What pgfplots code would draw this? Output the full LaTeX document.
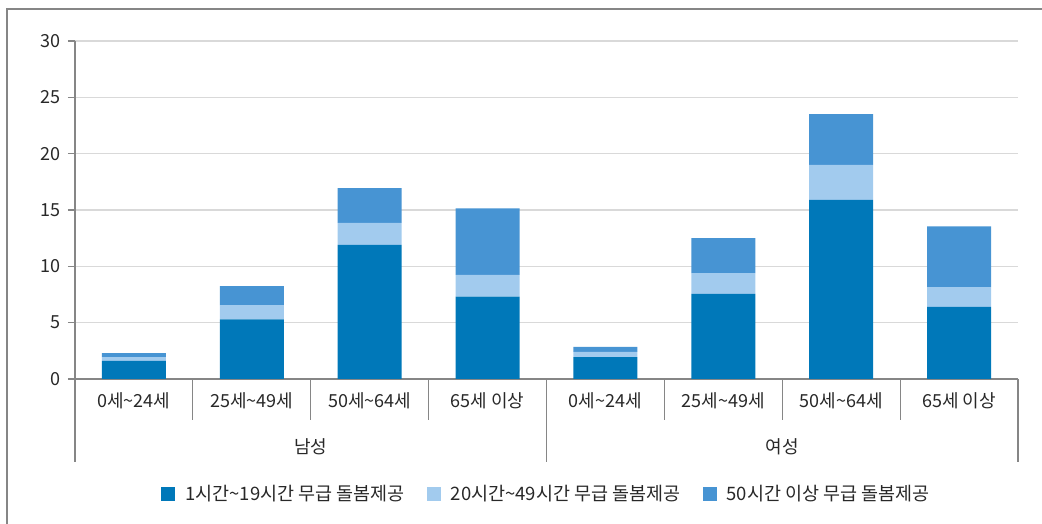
\documentclass[border=0pt]{standalone}
\usepackage{fontspec}
\setmainfont{Noto Sans CJK KR}
\usepackage{pgfplots}
\pgfplotsset{compat=1.18}
\definecolor{cdark}{RGB}{0,120,185}
\definecolor{clight}{RGB}{162,203,238}
\definecolor{cmid}{RGB}{71,148,211}
\definecolor{cgrid}{RGB}{217,217,217}
\definecolor{caxis}{RGB}{134,134,134}
\definecolor{ctext}{RGB}{40,40,40}
\begin{document}
\begin{tikzpicture}[x=1pt,y=1pt]
\useasboundingbox (0,0) rectangle (1042,524);
\draw[color=caxis,line width=1.3pt] (7,0) -- (7,515) -- (1042,515);
\begin{axis}[
  at={(75pt,145pt)}, anchor=south west,
  width=943pt, height=338pt, scale only axis,
  ybar stacked, bar width=64pt,
  xmin=-0.5, xmax=7.5, ymin=0, ymax=30,
  ytick={0,5,10,15,20,25,30},
  xtick={0,1,2,3,4,5,6,7},
  xticklabels={0세\textasciitilde 24세,25세\textasciitilde 49세,50세\textasciitilde 64세,65세 이상,0세\textasciitilde 24세,25세\textasciitilde 49세,50세\textasciitilde 64세,65세 이상},
  axis x line*=bottom, axis y line*=left,
  x axis line style={color=caxis,line width=1.5pt,-},
  y axis line style={color=caxis,line width=1.2pt,-},
  ymajorgrids, grid style={color=cgrid,line width=1.2pt},
  x tick style={draw=none},
  y tick style={color=caxis,line width=1.2pt},
  major tick length=7pt, tick align=outside,
  /pgf/number format/assume math mode=true,
  ticklabel style={font=\fontsize{18}{20}\selectfont, text=ctext},
  xticklabel style={anchor=center, yshift=-15pt},
  yticklabel style={xshift=-4pt},
  clip=false,
  legend style={at={(0.5,-0.34)}, anchor=center, draw=none, fill=none,
    legend columns=3, font=\fontsize{18.5}{20}\selectfont, text=ctext,
    /tikz/every even column/.append style={column sep=20pt}},
  legend image code/.code={\fill[#1] (0pt,-7pt) rectangle (14pt,7pt); \path (22pt,0pt);},
]
\addplot[fill=cdark, draw=none] coordinates {(0,1.6) (1,5.3) (2,11.9) (3,7.3) (4,1.95) (5,7.55) (6,15.9) (7,6.4)};
\addplot[fill=clight, draw=none] coordinates {(0,0.35) (1,1.25) (2,1.95) (3,1.95) (4,0.45) (5,1.85) (6,3.1) (7,1.75)};
\addplot[fill=cmid, draw=none] coordinates {(0,0.35) (1,1.7) (2,3.1) (3,5.9) (4,0.45) (5,3.1) (6,4.5) (7,5.4)};
\legend{1시간\textasciitilde 19시간 무급 돌봄제공, 20시간\textasciitilde 49시간 무급 돌봄제공, 50시간 이상 무급 돌봄제공}
\draw[color=caxis,line width=1.2pt] (axis cs:-0.5,0) -- ++(0pt,-83pt);
\draw[color=caxis,line width=1.2pt] (axis cs:0.5,0) -- ++(0pt,-41pt);
\draw[color=caxis,line width=1.2pt] (axis cs:1.5,0) -- ++(0pt,-41pt);
\draw[color=caxis,line width=1.2pt] (axis cs:2.5,0) -- ++(0pt,-41pt);
\draw[color=caxis,line width=1.2pt] (axis cs:3.5,0) -- ++(0pt,-83pt);
\draw[color=caxis,line width=1.2pt] (axis cs:4.5,0) -- ++(0pt,-41pt);
\draw[color=caxis,line width=1.2pt] (axis cs:5.5,0) -- ++(0pt,-41pt);
\draw[color=caxis,line width=1.2pt] (axis cs:6.5,0) -- ++(0pt,-41pt);
\draw[color=caxis,line width=1.2pt] (axis cs:7.5,0) -- ++(0pt,-83pt);
\node[text=ctext, font=\fontsize{18}{20}\selectfont] at ([yshift=-68pt]axis cs:1.5,0) {남성};
\node[text=ctext, font=\fontsize{18}{20}\selectfont] at ([yshift=-68pt]axis cs:5.5,0) {여성};
\end{axis}
\end{tikzpicture}
\end{document}
